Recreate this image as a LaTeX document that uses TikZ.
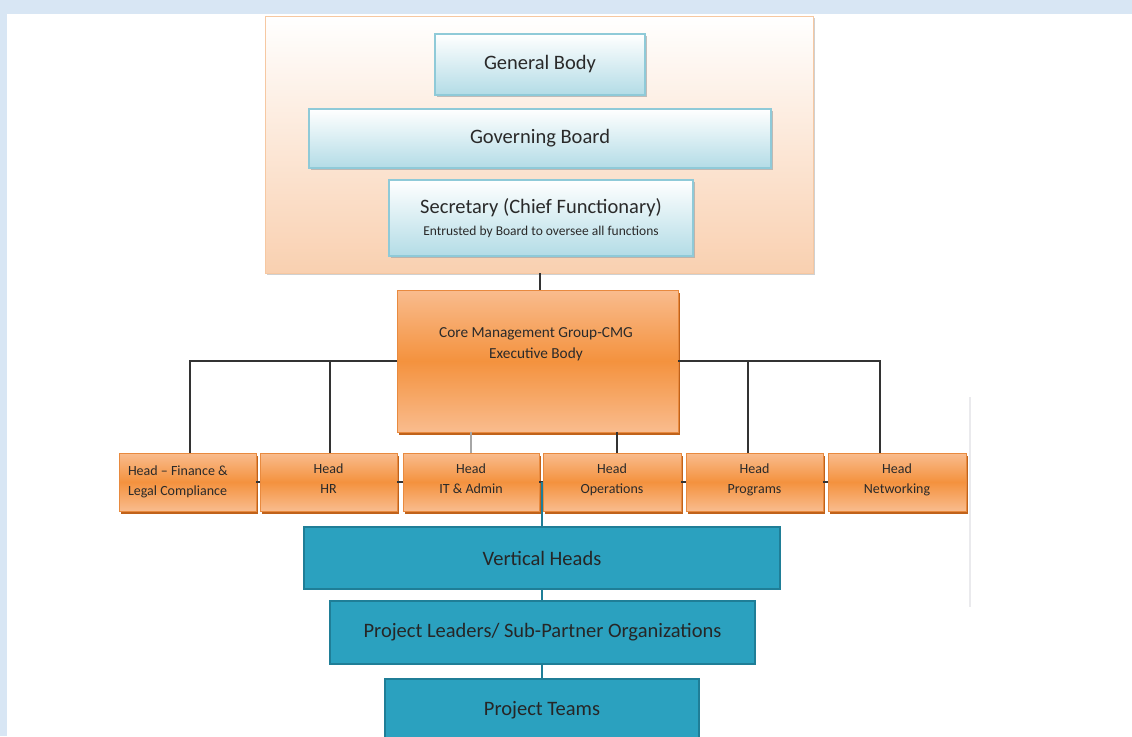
\documentclass[tikz,border=0pt]{standalone}
\usepackage{fontspec}
\setmainfont{Carlito}
\usetikzlibrary{shadows,calc}
\definecolor{bgblue}{HTML}{D8E6F4}
\definecolor{peach}{HTML}{F9D0B0}
\definecolor{peachline}{HTML}{F6C8A2}
\definecolor{lblue}{HTML}{B3DCE6}
\definecolor{lblueline}{HTML}{8FCAD8}
\definecolor{orgmid}{HTML}{F4923E}
\definecolor{orgtop}{HTML}{F9BC8E}
\definecolor{orgline}{HTML}{E88A3F}
\definecolor{orgshadow}{HTML}{C0621A}
\definecolor{tealfill}{HTML}{2BA1BF}
\definecolor{tealline}{HTML}{1F7E97}
\definecolor{txt}{HTML}{2A2A2A}
\tikzset{
  base/.style={anchor=north west, inner sep=0pt, outer sep=0pt, align=center, text=txt},
  outerbox/.style={base, draw=peachline, line width=1pt, top color=white, bottom color=peach,
     drop shadow={shadow xshift=1.5pt, shadow yshift=-2pt, fill=gray!60, opacity=0.6}},
  bluebox/.style={base, draw=lblueline, line width=1.2pt, top color=white, bottom color=lblue,
     drop shadow={shadow xshift=1.5pt, shadow yshift=-2pt, fill=gray!70, opacity=0.7}},
  orgbox/.style={base, draw=orgline, line width=0.8pt, top color=orgtop, bottom color=orgtop, middle color=orgmid,
     drop shadow={shadow xshift=1.5pt, shadow yshift=-2.5pt, fill=orgshadow, opacity=1}},
  tealbox/.style={base, draw=tealline, line width=1.2pt, fill=tealfill, text=black!85},
  bigfont/.style={font=\fontsize{20.5}{24}\selectfont},
  conn/.style={draw=black!80, line width=1.3pt},
  tconn/.style={draw=tealline, line width=1.2pt},
}
\begin{document}
\begin{tikzpicture}[x=1pt,y=-1pt]
\useasboundingbox (0,0) rectangle (1132,736);
\clip (0,0) rectangle (1132,736);
\fill[bgblue] (0,0) rectangle (1132,736);
\fill[white] (7,14) rectangle (1132,740);
% faint line on right
\draw[draw=blue!8!gray!15, line width=2pt] (970,397) -- (970,607);
% top group
\node[outerbox, minimum width=548pt, minimum height=257pt] (top) at (265,16) {};
\node[bluebox, bigfont, minimum width=210pt, minimum height=61pt] (gb) at (435,34) {General Body};
\node[bluebox, bigfont, minimum width=462pt, minimum height=59pt] (gov) at (309,109) {Governing Board};
\node[bluebox, minimum width=304pt, minimum height=76pt] (sec) at (389,180)
  {{\fontsize{20.5}{24}\selectfont Secretary (Chief Functionary)}\\[8pt]{\fontsize{13.5}{15}\selectfont Entrusted by Board\ to oversee all functions}};
% CMG
\node[orgbox, minimum width=281pt, minimum height=142pt] (cmg) at (397,290) {};
\node[text=txt, align=center, font=\fontsize{15.3}{21}\selectfont, inner sep=0pt] (cmgt) at (536,344) {Core Management Group-CMG\\Executive Body};
% heads
\tikzset{headfont/.style={font=\fontsize{14}{20}\selectfont, minimum height=58pt}}
\node[orgbox, headfont, minimum width=137pt, text width=119pt, align=flush left] (h1) at (119,453) {Head -- Finance \&\\Legal Compliance\\[-16pt]};
\node[orgbox, headfont, minimum width=137pt] (h2) at (260,453) {Head\\HR\\[-14pt]};
\node[orgbox, headfont, minimum width=136pt] (h3) at (403,453) {Head\\IT \& Admin\\[-14pt]};
\node[orgbox, headfont, minimum width=138pt] (h4) at (543,453) {Head\\Operations\\[-14pt]};
\node[orgbox, headfont, minimum width=137pt] (h5) at (686,453) {Head\\Programs\\[-14pt]};
\node[orgbox, headfont, minimum width=138pt] (h6) at (828,453) {Head\\Networking\\[-14pt]};
% teal
\node[tealbox, bigfont, minimum width=476pt, minimum height=62pt] (vh) at (304,527) {Vertical Heads};
\node[tealbox, bigfont, minimum width=425pt, minimum height=63pt] (pl) at (330,601) {Project Leaders/ Sub-Partner Organizations};
\node[tealbox, bigfont, minimum width=314pt, minimum height=63pt] (pt) at (385,679) {\raisebox{2pt}{Project Teams}};
% connectors
\draw[conn] (top.south -| 540,0) -- (cmg.north -| 540,0);
\draw[conn] (cmg.west) -| (190,0 |- h1.north);
\draw[conn] (330,0 |- cmg.west) -- (330,0 |- h2.north);
\draw[draw=gray!70, line width=1.3pt] (h3.north) -- (h3.north |- cmg.south);
\draw[conn] ([xshift=5pt]h4.north) -- ([xshift=5pt]h4.north |- cmg.south);
\draw[conn] (cmg.east) -| (880,0 |- h6.north);
\draw[conn] (748,0 |- cmg.east) -- (748,0 |- h5.north);
\draw[conn] (h1.east) -- (h2.west);
\draw[conn] (h2.east) -- (h3.west);
\draw[conn] (h3.east) -- (h4.west);
\draw[conn] (h4.east) -- (h5.west);
\draw[conn] (h5.east) -- (h6.west);
\draw[tconn] (vh.north -| 542,0) -- (542,0 |- h3.east);
\draw[tconn] (vh.south -| 542,0) -- (pl.north -| 542,0);
\draw[tconn] (pl.south -| 542,0) -- (pt.north -| 542,0);
\end{tikzpicture}
\end{document}
